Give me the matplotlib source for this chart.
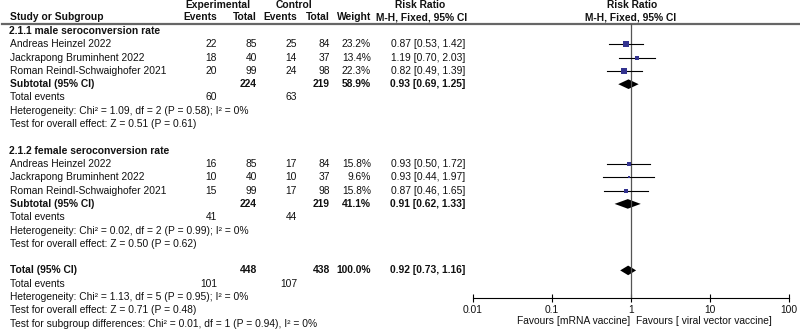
import matplotlib.pyplot as plt

plt.rcParams["font.family"] = ["Liberation Sans", "DejaVu Sans"]
plt.rcParams["font.size"] = 7.35

# ── data ──────────────────────────────────────────
studies = ["Andreas Heinzel 2022", "Jackrapong Bruminhent 2022", "Roman Reindl-Schwaighofer 2021"]

male_exp_events = [22, 18, 20]
male_exp_total = [85, 40, 99]
male_ctl_events = [25, 14, 24]
male_ctl_total = [84, 37, 98]
male_weight = [23.2, 13.4, 22.3]
male_rr = [0.87, 1.19, 0.82]
male_lo = [0.53, 0.70, 0.49]
male_hi = [1.42, 2.03, 1.39]

female_exp_events = [16, 10, 15]
female_exp_total = [85, 40, 99]
female_ctl_events = [17, 10, 17]
female_ctl_total = [84, 37, 98]
female_weight = [15.8, 9.6, 15.8]
female_rr = [0.93, 0.93, 0.87]
female_lo = [0.50, 0.44, 0.46]
female_hi = [1.72, 1.97, 1.65]

# subtotal / total: exp total, ctl total, weight, rr, lo, hi, exp events, ctl events
male_sub = [224, 219, 58.9, 0.93, 0.69, 1.25, 60, 63]
female_sub = [224, 219, 41.1, 0.91, 0.62, 1.33, 41, 44]
overall = [448, 438, 100.0, 0.92, 0.73, 1.16, 101, 107]

male_het = "Heterogeneity: Chi² = 1.09, df = 2 (P = 0.58); I² = 0%"
male_z = "Test for overall effect: Z = 0.51 (P = 0.61)"
female_het = "Heterogeneity: Chi² = 0.02, df = 2 (P = 0.99); I² = 0%"
female_z = "Test for overall effect: Z = 0.50 (P = 0.62)"
total_het = "Heterogeneity: Chi² = 1.13, df = 5 (P = 0.95); I² = 0%"
total_z = "Test for overall effect: Z = 0.71 (P = 0.48)"
subgroup_test = "Test for subgroup differences: Chi² = 0.01, df = 1 (P = 0.94), I² = 0%"

ticks = [0.01, 0.1, 1, 10, 100]
tick_labels = ["0.01", "0.1", "1", "10", "100"]

# ── layout (pixels) ───────────────────────────────
W, H = 800, 333
X_NAME = 10
X_EE, X_ET, X_CE, X_CT, X_W, X_RR = 217, 257, 297, 330, 371, 465
TXT = "#111111"
SQ = "#33338f"


def row_y(k):
    return 31 + 13.3 * k


fig = plt.figure(figsize=(W / 100, H / 100), dpi=100)
ax = fig.add_axes([0, 0, 1, 1])
ax.set_xlim(0, W)
ax.set_ylim(H, 0)
ax.axis("off")

fa = fig.add_axes([473 / W, 0, (789 - 473) / W, 1])
fa.set_xscale("log")
fa.set_xlim(0.01, 100)
fa.set_ylim(H, 0)
fa.patch.set_alpha(0)
for s in ["left", "right", "top"]:
    fa.spines[s].set_visible(False)
fa.spines["bottom"].set_position(("data", 298))
fa.spines["bottom"].set_linewidth(0.8)
fa.set_xticks(ticks)
fa.set_xticklabels(tick_labels)
fa.minorticks_off()
fa.tick_params(axis="x", direction="inout", length=6, width=0.8, pad=2, labelsize=7.35, labelcolor=TXT)
fa.set_yticks([])


def t(x, y, s, ha="left", bold=False):
    ax.text(x, y, s, ha=ha, va="center", color=TXT, fontweight="bold" if bold else "normal")


# header
t(218, 5, "Experimental", "center", True)
t(294, 5, "Control", "center", True)
t(420, 5, "Risk Ratio", "center", True)
t(632, 5, "Risk Ratio", "center", True)
t(X_NAME, 17, "Study or Subgroup", bold=True)
t(X_EE, 17, "Events", "right", True)
t(X_ET, 17, "Total", "right", True)
t(X_CE, 17, "Events", "right", True)
t(X_CT, 17, "Total", "right", True)
t(X_W, 17, "Weight", "right", True)
t(422, 17, "M-H, Fixed, 95% CI", "center", True)
t(631, 17, "M-H, Fixed, 95% CI", "center", True)
ax.plot([2, 800], [23.5, 23.5], color="#666666", lw=1.6)
fa.plot([1, 1], [23.5, 298], color="#555555", lw=0.9)


def diamond(y, rr, lo, hi):
    fa.fill([lo, rr, hi, rr], [y, y - 4.8, y, y + 4.8], color="black", lw=0)


def group(k0, title, ee, et, ce, ct, w, rr, lo, hi, sub, het, z):
    t(9, row_y(k0), title, bold=True)
    for i in range(len(studies)):
        y = row_y(k0 + 1 + i)
        t(X_NAME, y, studies[i])
        t(X_EE, y, str(ee[i]), "right")
        t(X_ET, y, str(et[i]), "right")
        t(X_CE, y, str(ce[i]), "right")
        t(X_CT, y, str(ct[i]), "right")
        t(X_W, y, f"{w[i]:.1f}%", "right")
        t(X_RR, y, f"{rr[i]:.2f} [{lo[i]:.2f}, {hi[i]:.2f}]", "right")
        fa.plot([lo[i], hi[i]], [y, y], color="black", lw=0.8)
        fa.plot([rr[i]], [y], marker="s", ls="none", color=SQ,
                markersize=w[i] * 0.23 * 0.72, markeredgewidth=0)
    y = row_y(k0 + 4)
    t(X_NAME, y, "Subtotal (95% CI)", bold=True)
    t(X_ET, y, str(sub[0]), "right", True)
    t(X_CT, y, str(sub[1]), "right", True)
    t(X_W, y, f"{sub[2]:.1f}%", "right", True)
    t(X_RR, y, f"{sub[3]:.2f} [{sub[4]:.2f}, {sub[5]:.2f}]", "right", True)
    diamond(y, sub[3], sub[4], sub[5])
    y = row_y(k0 + 5)
    t(X_NAME, y, "Total events")
    t(X_EE, y, str(sub[6]), "right")
    t(X_CE, y, str(sub[7]), "right")
    t(X_NAME, row_y(k0 + 6), het)
    t(X_NAME, row_y(k0 + 7), z)


group(0, "2.1.1 male seroconversion rate", male_exp_events, male_exp_total, male_ctl_events,
      male_ctl_total, male_weight, male_rr, male_lo, male_hi, male_sub, male_het, male_z)
group(9, "2.1.2 female seroconversion rate", female_exp_events, female_exp_total, female_ctl_events,
      female_ctl_total, female_weight, female_rr, female_lo, female_hi, female_sub, female_het, female_z)

# overall
y = row_y(18)
t(X_NAME, y, "Total (95% CI)", bold=True)
t(X_ET, y, str(overall[0]), "right", True)
t(X_CT, y, str(overall[1]), "right", True)
t(X_W, y, f"{overall[2]:.1f}%", "right", True)
t(X_RR, y, f"{overall[3]:.2f} [{overall[4]:.2f}, {overall[5]:.2f}]", "right", True)
diamond(y, overall[3], overall[4], overall[5])
y = row_y(19)
t(X_NAME, y, "Total events")
t(X_EE, y, str(overall[6]), "right")
t(X_CE, y, str(overall[7]), "right")
t(X_NAME, row_y(20), total_het)
t(X_NAME, row_y(21), total_z)
t(X_NAME, row_y(22), subgroup_test)

t(630, 321, "Favours [mRNA vaccine]", "right")
t(636, 321, "Favours [ viral vector vaccine]")

fig.savefig("out.png", dpi=100)
